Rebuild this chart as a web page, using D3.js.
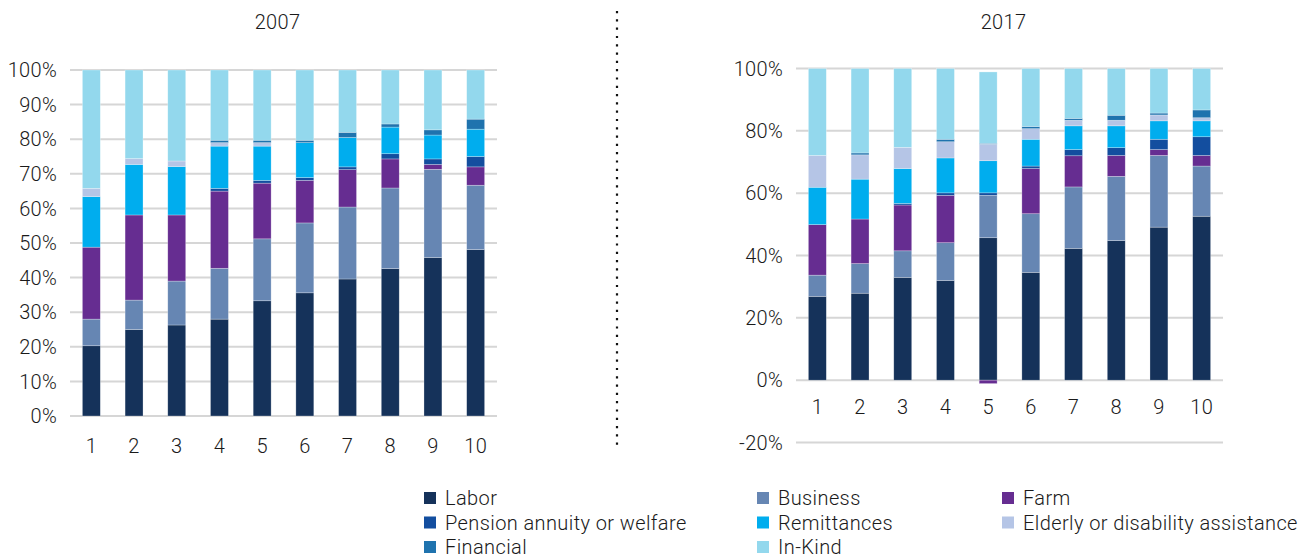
<!DOCTYPE html>
<html>
<head>
<meta charset="utf-8">
<script src="https://cdn.jsdelivr.net/npm/d3@7/dist/d3.min.js"></script>
<style>
  html, body { margin: 0; padding: 0; background: #fff; }
  svg { display: block; font-family: Roboto, "Open Sans", sans-serif; }
  .tick-label { font-size: 20px; font-weight: 300; fill: #1a1a1a; letter-spacing: 0.3px; }
  .title { font-size: 20px; font-weight: 300; fill: #1a1a1a; letter-spacing: 0.3px; }
  .legend-label { font-size: 20px; font-weight: 300; fill: #1a1a1a; letter-spacing: 0.4px; }
</style>
</head>
<body>
<svg id="chart" width="1314" height="559"></svg>
<script>
// Income deciles
const deciles = ["1", "2", "3", "4", "5", "6", "7", "8", "9", "10"];

const sources = ["Labor", "Business", "Farm", "Pension annuity or welfare",
                 "Remittances", "Elderly or disability assistance", "Financial", "In-Kind"];
const sourceColors = ["#15325a", "#6686b3", "#662d91", "#134e9f",
                      "#00adee", "#b5c5e6", "#1f73ae", "#93d8ed"];

// Share of household income by source, 2007 (%)
const labor2007       = [20.3, 25.0, 26.3, 28.0, 33.3, 35.6, 39.6, 42.6, 45.8, 48.1];
const business2007    = [ 7.7,  8.5, 12.7, 14.7, 17.9, 20.2, 20.8, 23.3, 25.5, 18.6];
const farm2007        = [20.8, 24.6, 19.1, 22.3, 16.1, 12.3, 10.8,  8.4,  1.4,  5.3];
const pension2007     = [ 0.0,  0.0,  0.0,  0.8,  0.8,  0.8,  0.8,  1.5,  1.6,  3.0];
const remittances2007 = [14.6, 14.6, 14.0, 12.2,  9.9, 10.1,  8.5,  7.7,  6.9,  7.9];
const elderly2007     = [ 2.4,  1.7,  1.6,  1.0,  1.0,  0.0,  0.0,  0.0,  0.0,  0.0];
const financial2007   = [ 0.0,  0.0,  0.0,  0.7,  0.7,  0.7,  1.5,  0.9,  1.5,  2.9];
const inKind2007      = [34.2, 25.6, 26.3, 20.3, 20.3, 20.3, 18.0, 15.6, 17.3, 14.2];

// Share of household income by source, 2017 (%)
const labor2017       = [26.9, 27.9, 33.0, 32.0, 45.7, 34.6, 42.3, 44.8, 49.1, 52.6];
const business2017    = [ 6.8,  9.5,  8.5, 12.1, 13.6, 18.8, 19.7, 20.6, 23.0, 16.1];
const farm2017        = [16.2, 14.3, 14.7, 15.2, -1.1, 14.5, 10.0,  6.7,  1.9,  3.4];
const pension2017     = [ 0.0,  0.0,  0.5,  0.8,  0.8,  0.8,  2.0,  2.5,  3.3,  6.0];
const remittances2017 = [12.0, 12.8, 11.2, 11.2, 10.3,  8.6,  7.6,  7.0,  5.9,  5.1];
const elderly2017     = [10.2,  7.8,  6.8,  5.2,  5.3,  3.4,  1.8,  1.8,  1.9,  1.0];
const financial2017   = [ 0.0,  0.6,  0.0,  0.8,  0.3,  0.7,  0.6,  1.6,  0.6,  2.5];
const inKind2017      = [27.9, 27.1, 25.3, 22.7, 22.9, 18.6, 16.0, 15.0, 14.3, 13.3];

const ticks2007 = [0, 10, 20, 30, 40, 50, 60, 70, 80, 90, 100];
const ticks2017 = [-20, 0, 20, 40, 60, 80, 100];

function rows(series) {
  return deciles.map((d, i) => {
    const r = { decile: d };
    sources.forEach((s, k) => { r[s] = series[k][i]; });
    return r;
  });
}

const data2007 = rows([labor2007, business2007, farm2007, pension2007,
                       remittances2007, elderly2007, financial2007, inKind2007]);
const data2017 = rows([labor2017, business2017, farm2017, pension2017,
                       remittances2017, elderly2017, financial2017, inKind2017]);

const svg = d3.select("#chart");
const color = d3.scaleOrdinal().domain(sources).range(sourceColors);

function panel(opts) {
  const g = svg.append("g");
  const x = d3.scaleBand().domain(deciles).range([opts.x0, opts.x1]).paddingInner(0.58).paddingOuter(0.29);
  const y = d3.scaleLinear().domain(opts.domain).range([opts.yBottom, opts.yTop]);

  // horizontal grid lines
  g.append("g").selectAll("line").data(opts.ticks).join("line")
    .attr("x1", opts.x0).attr("x2", opts.x1)
    .attr("y1", d => y(d)).attr("y2", d => y(d))
    .attr("stroke", "#d6d6d6").attr("stroke-width", 2);

  // y tick labels
  g.append("g").selectAll("text").data(opts.ticks).join("text")
    .attr("class", "tick-label")
    .attr("x", opts.x0 - 13).attr("y", d => y(d))
    .attr("dy", "0.36em").attr("text-anchor", "end")
    .text(d => d + "%");

  // stacked bars (negative values stack below zero)
  const stacked = d3.stack().keys(sources).offset(d3.stackOffsetDiverging)(opts.data);
  g.append("g").selectAll("g").data(stacked).join("g")
    .attr("fill", d => color(d.key))
    .selectAll("rect").data(d => d.filter(s => s[1] !== s[0])).join("rect")
    .attr("x", d => x(d.data.decile))
    .attr("width", x.bandwidth())
    .attr("y", d => y(Math.max(d[0], d[1])))
    .attr("height", d => Math.abs(y(d[0]) - y(d[1])))
    .attr("stroke", "rgba(255,255,255,0.45)")
    .attr("stroke-width", 0.6);

  // x tick labels
  g.append("g").selectAll("text").data(deciles).join("text")
    .attr("class", "tick-label")
    .attr("x", d => x(d) + x.bandwidth() / 2)
    .attr("y", opts.xLabelY).attr("dy", "0.36em")
    .attr("text-anchor", "middle")
    .text(d => d);

  g.append("text").attr("class", "title")
    .attr("x", (opts.x0 + opts.x1) / 2 - 6).attr("y", 22).attr("dy", "0.36em")
    .attr("text-anchor", "middle").text(opts.title);
}

panel({ data: data2007, title: "2007", x0: 70, x1: 497, domain: [0, 100],
        yBottom: 416, yTop: 70, ticks: ticks2007, xLabelY: 446 });
panel({ data: data2017, title: "2017", x0: 796, x1: 1223, domain: [-20, 100],
        yBottom: 442.5, yTop: 68.5, ticks: ticks2017, xLabelY: 407 });

// dotted divider between the two years
svg.append("line")
  .attr("x1", 617).attr("x2", 617).attr("y1", 11).attr("y2", 449)
  .attr("stroke", "#111").attr("stroke-width", 2.2)
  .attr("stroke-dasharray", "2.2,6.1");

// legend, three columns
const legendCols = [424, 757, 1002];
const legendRows = [498, 522.5, 547];
const legend = svg.append("g").selectAll("g").data(sources).join("g")
  .attr("transform", (d, i) => `translate(${legendCols[i % 3]},${legendRows[Math.floor(i / 3)]})`);
legend.append("rect").attr("x", 0).attr("y", -6).attr("width", 12).attr("height", 12)
  .attr("fill", d => color(d));
legend.append("text").attr("class", "legend-label")
  .attr("x", 21).attr("y", 0).attr("dy", "0.36em").text(d => d);
</script>
</body>
</html>
